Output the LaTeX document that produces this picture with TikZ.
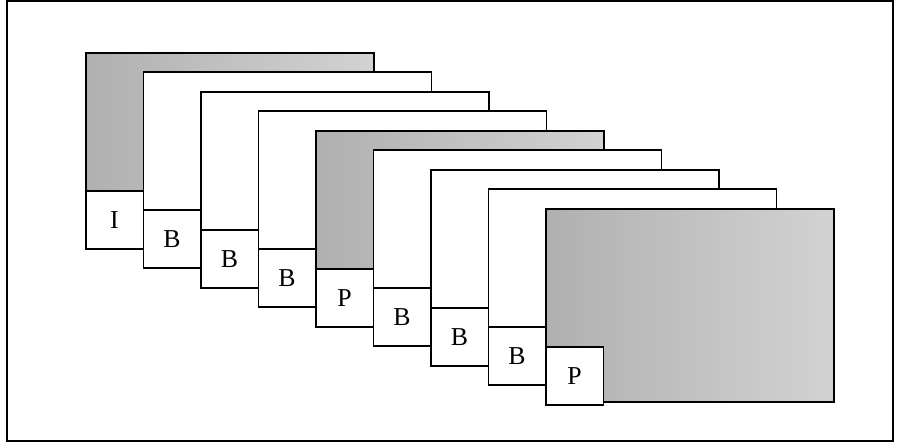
\documentclass[tikz,border=0pt]{standalone}
\usepackage{fontspec}
\setmainfont{Liberation Serif}
\usetikzlibrary{positioning}
\tikzset{
  frm/.style={draw, fill=white, line width=1.3pt, minimum width=8.64cm, minimum height=5.79cm, inner sep=0pt, anchor=north west},
  frmpic/.style={frm, left color=gray!62, right color=gray!35},
  tag/.style={draw, fill=white, line width=1.3pt, minimum width=1.725cm, minimum height=1.74cm, inner sep=0pt, anchor=south west, font=\fontsize{22}{26}\selectfont},
}
\begin{document}
\begin{tikzpicture}
\useasboundingbox (0,0) rectangle (27.03,13.29);
\draw[line width=0.9pt] (0.21,0.06) rectangle (26.79,13.26);
% frames of the GOP, back to front
\foreach \k/\t/\s in {0/I/frmpic,1/B/frm,2/B/frm,3/B/frm,4/P/frmpic,5/B/frm,6/B/frm,7/B/frm,8/P/frmpic}{
  \node[\s] (f\k) at (2.55+1.725*\k, 11.73-0.585*\k) {};
  \node[tag] (t\k) at ([yshift=-0.09cm]f\k.south west) {\t};
}
\end{tikzpicture}
\end{document}
